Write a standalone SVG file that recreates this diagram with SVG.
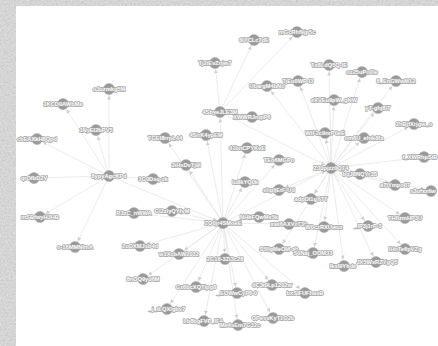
<svg xmlns="http://www.w3.org/2000/svg" width="438" height="346" viewBox="0 0 438 346">
<defs>
<filter id="noise" x="0" y="0" width="100%" height="100%">
<feTurbulence type="fractalNoise" baseFrequency="0.55" numOctaves="3" seed="4" result="t"/>
<feColorMatrix in="t" type="matrix" values="0.4 0.4 0.4 0 0  0.4 0.4 0.4 0 0  0.4 0.4 0.4 0 0  0 0 0 0 0.35"/>
</filter>
<marker id="arr" markerUnits="userSpaceOnUse" markerWidth="14" markerHeight="6" refX="10.5" refY="2" orient="auto">
<path d="M0,0 L4,2 L0,4 z" fill="#cfcfcf"/>
</marker>
<style>
.e line{stroke:#e2e2e2;stroke-width:0.7;fill:none;marker-end:url(#arr)}
.n circle{fill:#999999;stroke:#b0b0b0;stroke-width:0.6}
.n text{font-family:"Liberation Sans",Arial,sans-serif;font-size:5.7px;font-weight:bold;text-anchor:middle;fill:#ffffff;stroke:#a3a3a3;stroke-width:1.5px;paint-order:stroke;stroke-linejoin:round}
</style>
</defs>
<rect width="438" height="346" fill="#dadada"/>
<rect width="438" height="346" filter="url(#noise)"/>
<rect x="16" y="6" width="422" height="340" fill="#ffffff"/>

<g id="connectors" class="e">
<line x1="109" y1="176" x2="63" y2="104"/>
<line x1="109" y1="176" x2="109" y2="89"/>
<line x1="109" y1="176" x2="96" y2="130"/>
<line x1="109" y1="176" x2="37" y2="139"/>
<line x1="109" y1="176" x2="34" y2="178"/>
<line x1="109" y1="176" x2="40" y2="217"/>
<line x1="109" y1="176" x2="75" y2="247"/>
<line x1="109" y1="176" x2="153" y2="179"/>
<line x1="109" y1="176" x2="223" y2="223"/>
<line x1="223" y1="223" x2="134" y2="213"/>
<line x1="223" y1="223" x2="165" y2="138"/>
<line x1="223" y1="223" x2="206" y2="135"/>
<line x1="223" y1="223" x2="186" y2="165"/>
<line x1="223" y1="223" x2="172" y2="211"/>
<line x1="223" y1="223" x2="140" y2="246"/>
<line x1="223" y1="223" x2="143" y2="279"/>
<line x1="223" y1="223" x2="179" y2="254"/>
<line x1="223" y1="223" x2="167" y2="309"/>
<line x1="223" y1="223" x2="196" y2="287"/>
<line x1="223" y1="223" x2="204" y2="321"/>
<line x1="223" y1="223" x2="225" y2="259"/>
<line x1="223" y1="223" x2="237" y2="293"/>
<line x1="223" y1="223" x2="238" y2="325"/>
<line x1="223" y1="223" x2="272" y2="285"/>
<line x1="223" y1="223" x2="273" y2="318"/>
<line x1="223" y1="223" x2="305" y2="293"/>
<line x1="223" y1="223" x2="289" y2="224"/>
<line x1="223" y1="223" x2="259" y2="217"/>
<line x1="223" y1="223" x2="245" y2="182"/>
<line x1="223" y1="223" x2="247" y2="148"/>
<line x1="223" y1="223" x2="279" y2="160"/>
<line x1="223" y1="223" x2="220" y2="112"/>
<line x1="223" y1="223" x2="331" y2="168"/>
<line x1="220" y1="112" x2="215" y2="63"/>
<line x1="220" y1="112" x2="254" y2="40"/>
<line x1="220" y1="112" x2="297" y2="32"/>
<line x1="220" y1="112" x2="252" y2="117"/>
<line x1="220" y1="112" x2="331" y2="168"/>
<line x1="331" y1="168" x2="279" y2="249"/>
<line x1="331" y1="168" x2="279" y2="190"/>
<line x1="331" y1="168" x2="267" y2="86"/>
<line x1="331" y1="168" x2="298" y2="81"/>
<line x1="331" y1="168" x2="329" y2="65"/>
<line x1="331" y1="168" x2="362" y2="72"/>
<line x1="331" y1="168" x2="396" y2="81"/>
<line x1="331" y1="168" x2="334" y2="100"/>
<line x1="331" y1="168" x2="378" y2="108"/>
<line x1="331" y1="168" x2="325" y2="133"/>
<line x1="331" y1="168" x2="364" y2="138"/>
<line x1="331" y1="168" x2="414" y2="124"/>
<line x1="331" y1="168" x2="424" y2="157"/>
<line x1="331" y1="168" x2="360" y2="174"/>
<line x1="331" y1="168" x2="395" y2="185"/>
<line x1="331" y1="168" x2="431" y2="191"/>
<line x1="331" y1="168" x2="311" y2="199"/>
<line x1="331" y1="168" x2="405" y2="218"/>
<line x1="331" y1="168" x2="324" y2="227"/>
<line x1="331" y1="168" x2="368" y2="226"/>
<line x1="331" y1="168" x2="313" y2="253"/>
<line x1="331" y1="168" x2="344" y2="266"/>
<line x1="331" y1="168" x2="376" y2="262"/>
<line x1="331" y1="168" x2="405" y2="249"/>
</g>

<g id="n1" class="n"><circle cx="63" cy="104" r="5.5"/><text x="63" y="106">1KCD0AWbMe</text></g>
<g id="n2" class="n"><circle cx="109" cy="89" r="5.5"/><text x="109" y="91">oJuzmkg5M</text></g>
<g id="n3" class="n"><circle cx="96" cy="130" r="5.5"/><text x="96" y="132">1NyEl2bPV5</text></g>
<g id="n4" class="n"><circle cx="37" cy="139" r="5.5"/><text x="37" y="141">cbEAXkH8Qpd</text></g>
<g id="n5" class="n"><circle cx="34" cy="178" r="5.5"/><text x="34" y="180">qrOfbD2V</text></g>
<g id="n6" class="n"><circle cx="40" cy="217" r="5.5"/><text x="40" y="219">mSBfwyHJHB</text></g>
<g id="n7" class="n"><circle cx="75" cy="247" r="5.5"/><text x="75" y="249">o-16MMNImA</text></g>
<g id="h1" class="n"><circle cx="109" cy="176" r="5.5"/><text x="109" y="178">8ypyAgcKPd</text></g>
<g id="n8" class="n"><circle cx="134" cy="213" r="5.5"/><text x="134" y="215">R3zC_nWWA</text></g>
<g id="n9" class="n"><circle cx="153" cy="179" r="5.5"/><text x="153" y="181">3G0Dsq-zk</text></g>
<g id="n10" class="n"><circle cx="165" cy="138" r="5.5"/><text x="165" y="140">TGEl8rrpL44</text></g>
<g id="n11" class="n"><circle cx="206" cy="135" r="5.5"/><text x="206" y="137">4SirK4ypEM</text></g>
<g id="n12" class="n"><circle cx="186" cy="165" r="5.5"/><text x="186" y="167">2iHsDvTj9I</text></g>
<g id="n13" class="n"><circle cx="172" cy="211" r="5.5"/><text x="172" y="213">Gl2zIyQYfvM</text></g>
<g id="n14" class="n"><circle cx="140" cy="246" r="5.5"/><text x="140" y="248">2uOXMJsb4d</text></g>
<g id="n15" class="n"><circle cx="143" cy="279" r="5.5"/><text x="143" y="281">8nOQ9yd6M</text></g>
<g id="n16" class="n"><circle cx="179" cy="254" r="5.5"/><text x="179" y="256">w1XcbAW2032</text></g>
<g id="n17" class="n"><circle cx="167" cy="309" r="5.5"/><text x="167" y="311">_j_tLQXlgbv7</text></g>
<g id="n18" class="n"><circle cx="196" cy="287" r="5.5"/><text x="196" y="289">Gz6bcXQTlpg8</text></g>
<g id="n19" class="n"><circle cx="204" cy="321" r="5.5"/><text x="203" y="323">Lb8bgFVP_IF4</text></g>
<g id="n20" class="n"><circle cx="225" cy="259" r="5.5"/><text x="225" y="261">2G18-3Zi3c28</text></g>
<g id="n21" class="n"><circle cx="237" cy="293" r="5.5"/><text x="237" y="295">_EOWwCyP6-0</text></g>
<g id="n22" class="n"><circle cx="238" cy="325" r="5.5"/><text x="240" y="327">Me4sEm7GJ2c</text></g>
<g id="n23" class="n"><circle cx="272" cy="285" r="5.5"/><text x="272" y="287">dC3t0Lp1202w</text></g>
<g id="n24" class="n"><circle cx="273" cy="318" r="5.5"/><text x="273" y="320">OPesvKyT1O2b</text></g>
<g id="n25" class="n"><circle cx="305" cy="293" r="5.5"/><text x="305" y="295">bxSlFUFhaxB</text></g>
<g id="n26" class="n"><circle cx="279" cy="249" r="5.5"/><text x="279" y="251">S5IlgMeOM-ab</text></g>
<g id="n27" class="n"><circle cx="289" cy="224" r="5.5"/><text x="289" y="226">xwl6AXVzT3b</text></g>
<g id="n28" class="n"><circle cx="259" cy="217" r="5.5"/><text x="259" y="219">NHkFQwMx5k</text></g>
<g id="n29" class="n"><circle cx="245" cy="182" r="5.5"/><text x="245" y="184">lu8kYQ0k</text></g>
<g id="n30" class="n"><circle cx="247" cy="148" r="5.5"/><text x="247" y="150">41bnCPYKvE</text></g>
<g id="n31" class="n"><circle cx="279" cy="160" r="5.5"/><text x="279" y="162">TEo6MGPo</text></g>
<g id="n32" class="n"><circle cx="279" cy="190" r="5.5"/><text x="279" y="192">shpIjEtF-Ud</text></g>
<g id="h2" class="n"><circle cx="223" cy="223" r="5.5"/><text x="223" y="225">ZO0jr4SMoeE</text></g>
<g id="h4" class="n"><circle cx="220" cy="112" r="5.5"/><text x="220" y="114">4SbyeJLE3M</text></g>
<g id="n33" class="n"><circle cx="215" cy="63" r="5.5"/><text x="215" y="65">Tj2iEvZnjw7</text></g>
<g id="n34" class="n"><circle cx="254" cy="40" r="5.5"/><text x="254" y="42">6lYCLc7dE</text></g>
<g id="n35" class="n"><circle cx="297" cy="32" r="5.5"/><text x="297" y="34">mGcRhf9jp5c</text></g>
<g id="n36" class="n"><circle cx="252" cy="117" r="5.5"/><text x="252" y="119">XWWRJnqtP6</text></g>
<g id="h3" class="n"><circle cx="331" cy="168" r="5.5"/><text x="331" y="170">ZJ0pjzz0QT4</text></g>
<g id="n37" class="n"><circle cx="267" cy="86" r="5.5"/><text x="267" y="88">UbargM4bNo</text></g>
<g id="n38" class="n"><circle cx="298" cy="81" r="5.5"/><text x="298" y="83">7jEu0WP-l3</text></g>
<g id="n39" class="n"><circle cx="329" cy="65" r="5.5"/><text x="329" y="67">Tx8LdQ5Q-IE</text></g>
<g id="n40" class="n"><circle cx="362" cy="72" r="5.5"/><text x="362" y="74">oz25uPo0le</text></g>
<g id="n41" class="n"><circle cx="396" cy="81" r="5.5"/><text x="396" y="83">8_EnGWwM12</text></g>
<g id="n42" class="n"><circle cx="334" cy="100" r="5.5"/><text x="334" y="102">eXVEu9pW_gNW</text></g>
<g id="n43" class="n"><circle cx="378" cy="108" r="5.5"/><text x="378" y="110">yT-ghj8lT</text></g>
<g id="n44" class="n"><circle cx="325" cy="133" r="5.5"/><text x="325" y="135">WlF2c9nrP0eE</text></g>
<g id="n45" class="n"><circle cx="364" cy="138" r="5.5"/><text x="364" y="140">om6U_ehtk8fa</text></g>
<g id="n46" class="n"><circle cx="414" cy="124" r="5.5"/><text x="414" y="126">2hBjfXrjgw_o</text></g>
<g id="n47" class="n"><circle cx="424" cy="157" r="5.5"/><text x="420" y="159">f_XWRhpSlB</text></g>
<g id="n48" class="n"><circle cx="360" cy="174" r="5.5"/><text x="360" y="176">bqJ8NQYr3S</text></g>
<g id="n49" class="n"><circle cx="395" cy="185" r="5.5"/><text x="395" y="187">a7IYmpo07</text></g>
<g id="n50" class="n"><circle cx="431" cy="191" r="5.5"/><text x="423" y="193">s3ufxx6w</text></g>
<g id="n51" class="n"><circle cx="311" cy="199" r="5.5"/><text x="311" y="201">adpDl1gY7T</text></g>
<g id="n52" class="n"><circle cx="405" cy="218" r="5.5"/><text x="405" y="220">THfIzmHP3U</text></g>
<g id="n53" class="n"><circle cx="324" cy="227" r="5.5"/><text x="324" y="229">W0czRXUwuz</text></g>
<g id="n54" class="n"><circle cx="368" cy="226" r="5.5"/><text x="368" y="228">_IP3j1rP-3</text></g>
<g id="n55" class="n"><circle cx="313" cy="253" r="5.5"/><text x="313" y="255">S0Naj_OOMJ3</text></g>
<g id="n56" class="n"><circle cx="344" cy="266" r="5.5"/><text x="343" y="268">IkxI9Ybde</text></g>
<g id="n57" class="n"><circle cx="376" cy="262" r="5.5"/><text x="377" y="264">JX5WxRZYgQ5</text></g>
<g id="n58" class="n"><circle cx="405" cy="249" r="5.5"/><text x="405" y="251">lHnTe6pVZg</text></g>
</svg>
